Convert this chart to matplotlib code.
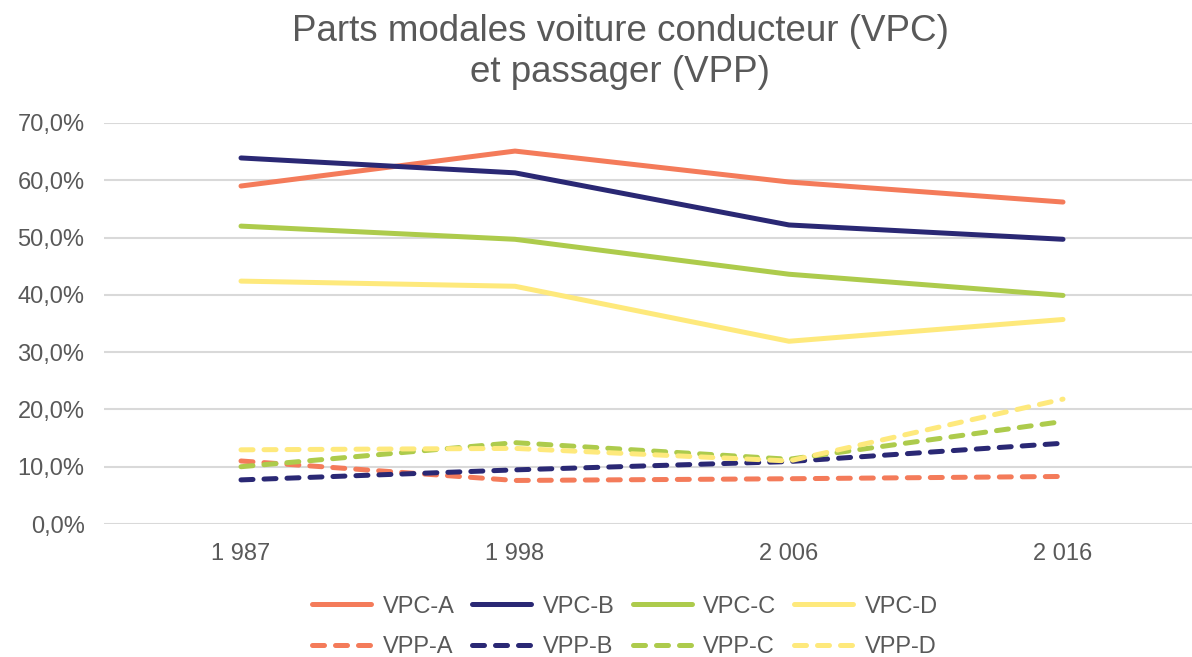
import numpy as np
import matplotlib.pyplot as plt
from matplotlib.lines import Line2D

plt.rcParams['font.family'] = ['Liberation Sans', 'DejaVu Sans']

years = ['1 987', '1 998', '2 006', '2 016']
vpc_a = [59.0, 65.1, 59.7, 56.2]
vpc_b = [63.9, 61.3, 52.2, 49.7]
vpc_c = [52.0, 49.7, 43.6, 39.9]
vpc_d = [42.4, 41.5, 31.9, 35.7]
vpp_a = [11.0, 7.6, 7.9, 8.3]
vpp_b = [7.7, 9.45, 10.9, 14.1]
vpp_c = [10.0, 14.2, 11.3, 17.9]
vpp_d = [12.95, 13.2, 11.0, 21.8]
labels = ['VPC-A', 'VPC-B', 'VPC-C', 'VPC-D', 'VPP-A', 'VPP-B', 'VPP-C', 'VPP-D']
series = [vpc_a, vpc_b, vpc_c, vpc_d, vpp_a, vpp_b, vpp_c, vpp_d]
colors = ['#F47B5A', '#2A2874', '#ADCB4C', '#FEE97C'] * 2

txt = '#595959'

fig = plt.figure(figsize=(11.92, 6.57), dpi=100)
ax = fig.add_axes([104 / 1192, 1 - 524 / 657, 1096 / 1192, 401 / 657])

x = np.arange(len(years))
lines = []
for i, (lab, vals) in enumerate(zip(labels, series)):
    ls = '-' if i < 4 else (0, (2.4, 2.2))
    l, = ax.plot(x, vals, color=colors[i], linewidth=3.6, linestyle=ls,
                 solid_capstyle='round', dash_capstyle='round',
                 solid_joinstyle='round', label=lab, zorder=3)
    lines.append(l)

ax.set_xlim(-0.5, 3.5)
ax.set_ylim(0, 70)
ax.set_yticks(np.arange(0, 71, 10))
ax.set_yticklabels([f'{v:.1f}%'.replace('.', ',') for v in np.arange(0, 71, 10)])
ax.set_xticks(x)
ax.set_xticklabels(years)
ax.grid(axis='y', color='#D9D9D9', linewidth=1.5)
ax.set_axisbelow(True)
for s in ax.spines.values():
    s.set_visible(False)
ax.tick_params(length=0, labelsize=17, labelcolor=txt)
ax.tick_params(axis='y', pad=14)
ax.tick_params(axis='x', pad=14)

fig.text(620 / 1192, 1 - 52 / 657, 'Parts modales voiture conducteur (VPC)\net passager (VPP)',
         ha='center', va='center', fontsize=26.5, color=txt, linespacing=1.2)

# legend fills columns first: interleave VPC / VPP
order = [0, 4, 1, 5, 2, 6, 3, 7]
fig.legend(handles=[lines[k] for k in order], ncol=4, loc='center',
           bbox_to_anchor=(625 / 1192, 1 - 627 / 657),
           frameon=False, fontsize=17, labelcolor=txt, handlelength=2.5,
           handletextpad=0.5, columnspacing=0.75, labelspacing=0.8)

fig.savefig('out.png', dpi=100)
